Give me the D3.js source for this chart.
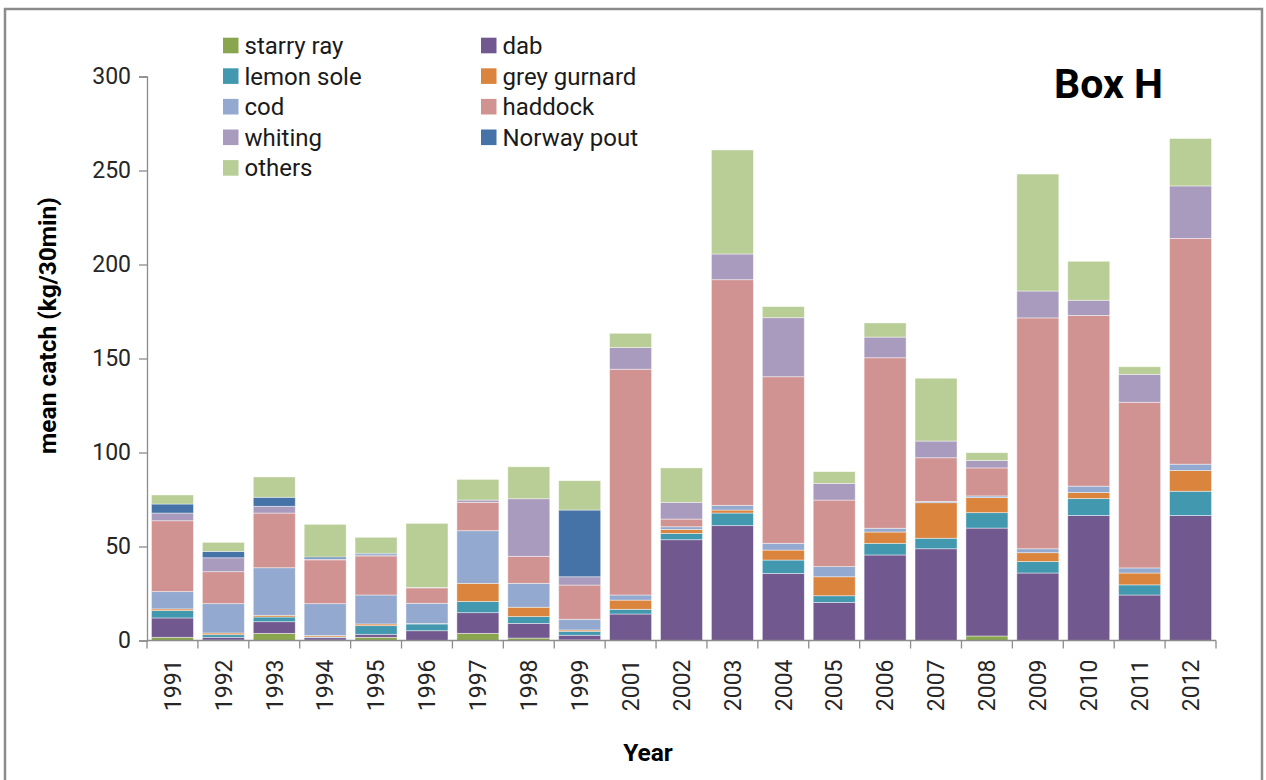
<!DOCTYPE html>
<html><head><meta charset="utf-8">
<script src="https://cdn.jsdelivr.net/npm/d3@7"></script>
<style>body{margin:0;background:#fff}svg{display:block}</style>
</head><body><svg id="c" width="1266" height="780"></svg>
<script>
const years = ["1991","1992","1993","1994","1995","1996","1997","1998","1999","2001","2002","2003","2004","2005","2006","2007","2008","2009","2010","2011","2012"];
const seriesNames = ["starry ray","dab","lemon sole","grey gurnard","cod","haddock","whiting","Norway pout","others"];
const starryRay  = [1.7,0.2,3.8,0.2,1.7,0,3.8,1.3,0.3,0,0,0,0,0,0,0,2.4,0,0,0,0];
const dab        = [10.3,1.5,6.2,1.3,1.6,5.2,11.0,7.8,2.5,14.1,53.6,61.1,35.7,20.3,45.5,48.8,57.4,35.9,66.5,24.2,66.5];
const lemonSole  = [3.9,1.4,2.5,0.4,4.6,3.6,6.0,3.6,2.1,2.5,3.4,6.7,7.1,3.5,6.2,5.6,8.2,6.1,9.0,5.4,12.9];
const greyGurnard= [0.9,0.9,0.9,0.7,0.9,0.2,9.6,5.0,0.7,4.9,2.1,1.6,5.3,10.1,6.0,18.9,8.0,4.7,3.2,6.3,11.0];
const cod        = [9.2,15.6,25.3,17.0,15.4,10.8,28.0,12.7,5.7,2.7,1.4,2.5,3.6,5.4,2.0,0.7,0.9,2.1,3.4,2.7,3.4];
const haddock    = [37.7,17.0,29.1,23.3,20.8,8.2,15.1,14.4,18.2,120.1,4.1,120.0,88.6,35.4,90.7,23.2,14.9,122.8,90.8,88.1,120.1];
const whiting    = [4.1,7.4,3.6,0.5,0.6,0.2,1.2,30.6,4.4,11.5,8.9,13.7,31.4,8.9,11.0,8.9,4.0,14.3,8.1,14.9,27.9];
const norwayPout = [4.8,3.4,4.8,1.0,0.8,0,0,0,35.5,0,0,0,0,0,0,0,0,0,0,0,0];
const others     = [4.8,4.8,10.8,17.4,8.5,34.1,11.0,17.0,15.6,7.6,18.3,55.3,5.9,6.2,7.5,33.4,4.1,62.2,20.7,4.0,25.2];
const yTicks = [0,50,100,150,200,250,300];
const colors = ["#89A54E","#71588F","#4198AF","#DB843D","#93A9CF","#D19392","#A99BBD","#4572A7","#B9CD96"];

const seriesData = [starryRay,dab,lemonSole,greyGurnard,cod,haddock,whiting,norwayPout,others];
const table = years.map((y,i)=>{const o={year:y}; seriesNames.forEach((s,k)=>o[s]=seriesData[k][i]); return o;});

const svg = d3.select("#c");
const font = "Roboto, 'Open Sans', sans-serif";

// outer frame
svg.append("rect").attr("x",5).attr("y",9).attr("width",1257).attr("height",775)
  .attr("fill","#fff").attr("stroke","#8c8c8c").attr("stroke-width",2.5);

const x = d3.scaleBand().domain(years).range([147,1216]).paddingInner(0.175).paddingOuter(0.0875);
const y = d3.scaleLinear().domain([0,300]).range([640.5,76.5]);

const stack = d3.stack().keys(seriesNames)(table);

const g = svg.append("g");
g.selectAll("g.s").data(stack).join("g").attr("class","s")
  .attr("fill",(d,i)=>colors[i])
  .selectAll("rect").data(d=>d).join("rect")
  .attr("x",d=>x(d.data.year)).attr("width",x.bandwidth())
  .attr("y",d=>y(d[1])).attr("height",d=>Math.max(0,y(d[0])-y(d[1])))
  .attr("stroke","rgba(255,255,255,0.55)").attr("stroke-width",0.8);

// y axis
const yAxis = svg.append("g").attr("transform","translate(147,0)")
  .call(d3.axisLeft(y).tickValues(yTicks).tickSize(8).tickPadding(8).tickFormat(d3.format("d")));
yAxis.select(".domain").attr("stroke","#8c8c8c").attr("stroke-width",1.3);
yAxis.selectAll(".tick line").attr("stroke","#8c8c8c").attr("stroke-width",1.3);
yAxis.selectAll("text").attr("font-family",font).attr("font-size",23).attr("fill","#262626");

// x axis
const xa = svg.append("g").attr("transform","translate(0,640.5)")
  .call(d3.axisBottom(x).tickSize(0).tickPadding(0));
xa.select(".domain").attr("stroke","#8c8c8c").attr("stroke-width",1.3).attr("d","M147,0H1216");
xa.selectAll(".tick line").remove();
xa.selectAll(".tick text")
  .attr("font-family",font).attr("font-size",23).attr("fill","#262626")
  .attr("transform","translate(0,19) rotate(-90)").attr("text-anchor","end").attr("dy","0.36em").attr("x",0).attr("y",0);
// boundary ticks between categories
const bounds = d3.range(years.length+1).map(i=>147 + i*x.step());
xa.selectAll("line.b").data(bounds).join("line").attr("class","b")
  .attr("x1",d=>d).attr("x2",d=>d).attr("y1",0).attr("y2",8)
  .attr("stroke","#8c8c8c").attr("stroke-width",1.3);

// axis titles
svg.append("text").attr("transform","translate(47,325.5) rotate(-90)").attr("text-anchor","middle")
  .attr("dy","0.35em").attr("font-family",font).attr("font-weight","bold").attr("font-size",24.5)
  .attr("fill","#000").text("mean catch (kg/30min)");
svg.append("text").attr("x",648).attr("y",761).attr("text-anchor","middle")
  .attr("font-family",font).attr("font-weight","bold").attr("font-size",24.5)
  .attr("fill","#000").text("Year");

// Box H
svg.append("text").attr("x",1054).attr("y",98).attr("font-family",font).attr("font-weight","bold")
  .attr("font-size",41).attr("fill","#000").text("Box H");

// legend
const legendPos = seriesNames.map((s,i)=>({name:s,col:i%2,row:Math.floor(i/2),color:colors[i]}));
const lg = svg.append("g");
const items = lg.selectAll("g").data(legendPos).join("g")
  .attr("transform",d=>`translate(${d.col?481:223},${45.5+d.row*30.6})`);
items.append("rect").attr("x",0).attr("y",-7.8).attr("width",15.5).attr("height",15.6).attr("fill",d=>d.color);
items.append("text").attr("x",21.5).attr("dy","0.35em").attr("font-family",font).attr("font-size",24)
  .attr("fill","#1a1a1a").text(d=>d.name);
</script></body></html>
